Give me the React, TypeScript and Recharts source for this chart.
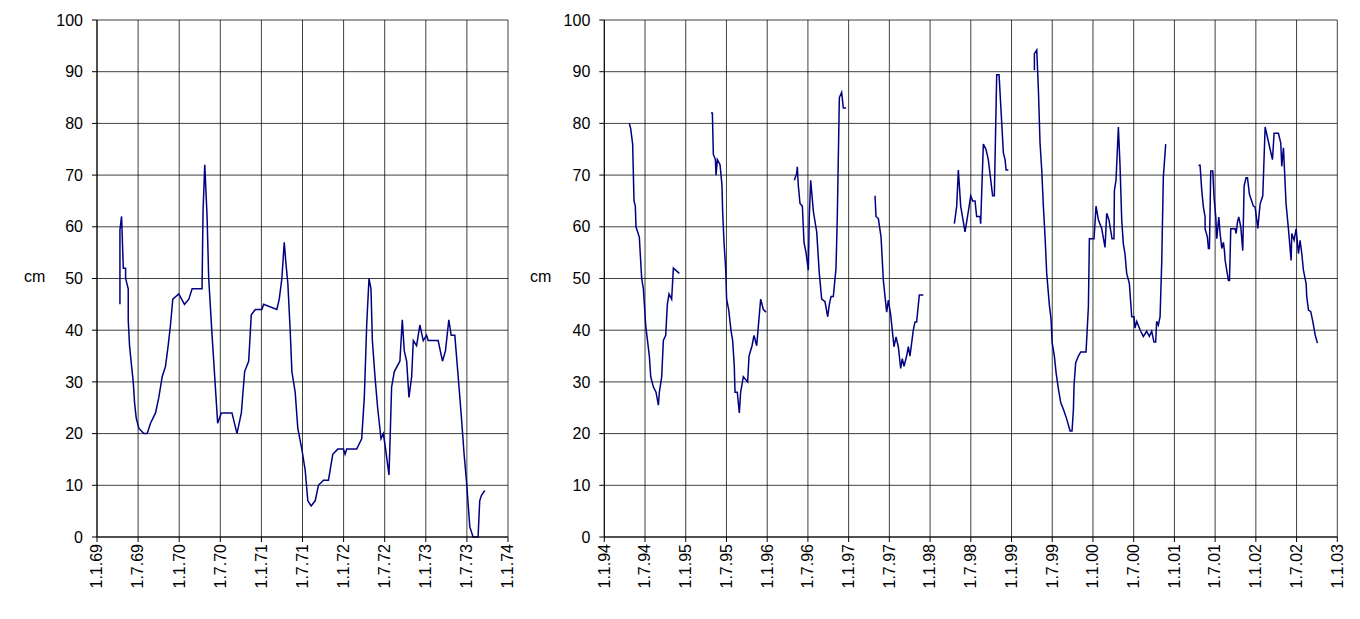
import { LineChart, Line, XAxis, YAxis, CartesianGrid } from 'recharts'

// 1969-1973 record: years (decimal, two-digit) and water level in cm
const leftYears = [69.279, 69.279, 69.299, 69.320, 69.348, 69.348, 69.380, 69.380, 69.396, 69.421, 69.441, 69.457, 69.477, 69.510, 69.570, 69.611, 69.651, 69.712, 69.752, 69.793, 69.833, 69.866, 69.894, 69.922, 69.995, 70.064, 70.117, 70.157, 70.278, 70.290, 70.311, 70.339, 70.359, 70.400, 70.432, 70.468, 70.513, 70.642, 70.703, 70.756, 70.796, 70.845, 70.877, 70.926, 71.006, 71.027, 71.188, 71.217, 71.249, 71.278, 71.298, 71.322, 71.350, 71.371, 71.411, 71.443, 71.492, 71.532, 71.565, 71.605, 71.654, 71.694, 71.755, 71.816, 71.868, 71.929, 71.998, 72.018, 72.038, 72.159, 72.220, 72.252, 72.281, 72.309, 72.333, 72.350, 72.382, 72.414, 72.455, 72.483, 72.511, 72.552, 72.564, 72.584, 72.617, 72.685, 72.714, 72.738, 72.767, 72.795, 72.828, 72.848, 72.888, 72.928, 72.969, 73.009, 73.029, 73.150, 73.203, 73.239, 73.280, 73.309, 73.353, 73.394, 73.434, 73.466, 73.494, 73.535, 73.575, 73.636, 73.656, 73.676, 73.717]
const leftCm = [45, 59.4, 62, 52, 52, 50, 48, 42, 37, 33, 30, 26, 23, 21, 20, 20, 22, 24, 27, 31, 33, 37, 41, 46, 47, 45, 46, 48, 48, 63, 72, 62, 50, 39, 31, 22, 24, 24, 20, 24, 32, 34, 43, 44, 44, 45, 44, 46, 50, 57, 53, 49, 40, 32, 28, 21, 17, 13, 7, 6, 7, 10, 11, 11, 16, 17, 17, 16, 17, 17, 19, 27, 41, 50, 48, 38, 31, 25, 19, 20, 17, 12, 18, 29, 32, 34, 42, 36, 34, 27, 31, 38, 37, 41, 38, 39, 38, 38, 34, 36, 42, 39, 39, 31, 23, 16, 11, 2, 0, 0, 7, 8, 9]

// 1994-2002 record, in separate measuring seasons
const rightSeg1Years = [94.307, 94.324, 94.348, 94.365, 94.381, 94.389, 94.430, 94.459, 94.480, 94.508, 94.553, 94.570, 94.603, 94.635, 94.664, 94.676, 94.705, 94.725, 94.754, 94.774, 94.795, 94.827, 94.848, 94.921]
const rightSeg1Cm = [80, 79, 76, 65, 64, 60, 58, 50, 48, 41, 35, 31, 29, 28, 25.5, 28, 31, 38, 39, 45, 47, 46, 52, 51]
const rightSeg2Years = [95.310, 95.327, 95.339, 95.364, 95.372, 95.388, 95.421, 95.445, 95.453, 95.470, 95.490, 95.502, 95.527, 95.555, 95.576, 95.596, 95.605, 95.633, 95.658, 95.674, 95.707, 95.760, 95.777, 95.814, 95.838, 95.871, 95.920, 95.953, 95.986]
const rightSeg2Cm = [82, 82, 74, 73, 70, 73, 72, 68, 63, 57, 52, 46, 44, 40, 38, 33, 28, 28, 24, 28, 31, 30, 35, 37, 39, 37, 46, 44, 43.5]
const rightSeg3Years = [96.333, 96.362, 96.370, 96.382, 96.403, 96.432, 96.452, 96.477, 96.505, 96.517, 96.534, 96.567, 96.608, 96.640, 96.669, 96.710, 96.743, 96.763, 96.784, 96.812, 96.845, 96.861, 96.886, 96.914, 96.935, 96.968]
const rightSeg3Cm = [69, 70.3, 71.6, 68, 64.5, 64, 57, 55, 51.6, 62, 69, 63, 59, 51, 46, 45.5, 42.6, 45, 46.5, 46.5, 52, 62, 85, 86, 83, 83]
const rightSeg4Years = [97.324, 97.336, 97.365, 97.398, 97.426, 97.447, 97.467, 97.488, 97.516, 97.557, 97.582, 97.610, 97.639, 97.659, 97.680, 97.712, 97.733, 97.753, 97.794, 97.815, 97.835, 97.868, 97.917]
const rightSeg4Cm = [66, 62, 61.6, 58, 49.7, 46.5, 43.5, 45.8, 43, 36.8, 38.7, 36.8, 32.6, 34.5, 33, 35, 36.8, 35, 40, 41.6, 41.6, 46.8, 46.8]
const rightSeg5Years = [98.298, 98.327, 98.347, 98.376, 98.429, 98.470, 98.499, 98.523, 98.552, 98.572, 98.613, 98.621, 98.654, 98.686, 98.715, 98.768, 98.789, 98.818, 98.847, 98.900, 98.921, 98.933, 98.961]
const rightSeg5Cm = [60.6, 64, 71, 64, 59, 63, 66, 65, 65, 62, 62, 60.6, 76, 75, 73, 66, 66, 89.4, 89.4, 74.3, 73, 71, 71]
const rightSeg6Years = [99.281, 99.281, 99.310, 99.330, 99.350, 99.371, 99.391, 99.412, 99.432, 99.465, 99.485, 99.498, 99.526, 99.547, 99.576, 99.604, 99.637, 99.678, 99.719, 99.743, 99.760, 99.768, 99.788, 99.821, 99.850, 99.915, 99.944, 99.956, 100.013, 100.038, 100.067, 100.107, 100.148, 100.169, 100.197, 100.234, 100.258, 100.263, 100.283, 100.312, 100.332, 100.353, 100.373, 100.393, 100.414, 100.447, 100.476, 100.504, 100.516, 100.537, 100.557, 100.586, 100.619, 100.659, 100.692, 100.721, 100.749, 100.770, 100.782, 100.803, 100.824, 100.844, 100.864, 100.893]
const rightSeg6Cm = [90.3, 93.5, 94.2, 86.5, 76.2, 71, 64, 58, 51, 44.8, 42.2, 37.7, 35, 31.8, 28.6, 26, 24.7, 22.8, 20.5, 20.5, 24.7, 29.5, 33.7, 35, 35.8, 35.8, 44.6, 57.7, 57.7, 64, 61.3, 59.7, 56, 62.6, 61.3, 57.7, 57.7, 67, 69, 79.3, 72, 61.3, 56.7, 54.8, 51, 49, 42.6, 42.6, 40.4, 41.7, 40.9, 39.8, 38.8, 39.8, 38.8, 39.8, 37.7, 37.7, 41.7, 41, 42.6, 53, 69.6, 76]
const rightSeg7Years = [101.295, 101.315, 101.336, 101.356, 101.377, 101.377, 101.405, 101.418, 101.430, 101.446, 101.471, 101.487, 101.508, 101.520, 101.545, 101.561, 101.582, 101.602, 101.614, 101.623, 101.663, 101.676, 101.692, 101.745, 101.758, 101.774, 101.790, 101.815, 101.839, 101.856, 101.880, 101.897, 101.921, 101.970, 101.991, 102.024, 102.052, 102.085, 102.114, 102.175, 102.204, 102.224, 102.277, 102.306, 102.318, 102.339, 102.371, 102.400, 102.433, 102.441, 102.470, 102.494, 102.523, 102.543, 102.564, 102.584, 102.617, 102.625, 102.646, 102.674, 102.699, 102.728, 102.756]
const rightSeg7Cm = [71.9, 71.9, 67, 63.8, 61.9, 59.6, 58, 55.8, 55.8, 70.8, 70.8, 65.7, 61.9, 57.7, 61.9, 58.7, 55.8, 57, 55.4, 53.5, 49.6, 49.6, 59.6, 59.6, 58.7, 60.9, 61.9, 60, 55.4, 67.9, 69.5, 69.5, 66.3, 64, 63.8, 59.7, 64.4, 66, 79.3, 75, 73, 78.1, 78.1, 76.2, 71.7, 75.3, 64.4, 59.6, 53.5, 58.7, 57.4, 59.6, 54.8, 57.4, 54.8, 51.6, 49, 46.5, 43.9, 43.6, 41.7, 39.1, 37.5]

const rightSegments = [
  [rightSeg1Years, rightSeg1Cm],
  [rightSeg2Years, rightSeg2Cm],
  [rightSeg3Years, rightSeg3Cm],
  [rightSeg4Years, rightSeg4Cm],
  [rightSeg5Years, rightSeg5Cm],
  [rightSeg6Years, rightSeg6Cm],
  [rightSeg7Years, rightSeg7Cm],
]

const yTicks = [0, 10, 20, 30, 40, 50, 60, 70, 80, 90, 100]
const leftTicks = [69, 69.5, 70, 70.5, 71, 71.5, 72, 72.5, 73, 73.5, 74]
const rightTicks = [94, 94.5, 95, 95.5, 96, 96.5, 97, 97.5, 98, 98.5, 99, 99.5, 100, 100.5, 101, 101.5, 102, 102.5, 103]

const leftData = leftYears.map((t, i) => ({ t, cm: leftCm[i] }))
const rightData: { t: number; cm: number | null }[] = []
rightSegments.forEach(([ys, cs], k) => {
  ys.forEach((t, i) => rightData.push({ t, cm: cs[i] }))
  if (k < rightSegments.length - 1) rightData.push({ t: ys[ys.length - 1] + 0.01, cm: null })
})

const dateLabel = (v: number) => {
  const whole = Math.floor(v + 1e-6)
  const month = v - whole > 0.25 ? 7 : 1
  return `1.${month}.${String(whole % 100).padStart(2, '0')}`
}

const font = { fontFamily: 'Liberation Sans, Arial, sans-serif', fontSize: 16, fill: '#000' }

function Chart({ data, ticks, width, yWidth, right }: any) {
  return (
    <LineChart width={width} height={619} data={data} margin={{ top: 20, right, left: 0, bottom: 0 }}>
      <CartesianGrid stroke="#000" strokeOpacity={0.75} horizontal vertical />
      <XAxis
        dataKey="t"
        type="number"
        domain={[ticks[0], ticks[ticks.length - 1]]}
        ticks={ticks}
        tickFormatter={dateLabel}
        interval={0}
        height={82}
        angle={-90}
        textAnchor="end"
        tick={{ ...font, dx: -6 }}
        tickSize={5}
        stroke="#000"
      />
      <YAxis
        type="number"
        domain={[0, 100]}
        ticks={yTicks}
        interval={0}
        width={yWidth}
        tick={font}
        tickSize={5}
        tickMargin={9}
        stroke="#000"
      />
      <Line type="linear" dataKey="cm" stroke="#000080" strokeWidth={1.5} dot={false} connectNulls={false} isAnimationActive={false} />
    </LineChart>
  )
}

export default function App() {
  return (
    <div style={{ position: 'absolute', left: 0, top: 0, width: 1360, height: 619, background: '#fff', fontFamily: 'Liberation Sans, Arial, sans-serif' }}>
      <div style={{ position: 'absolute', left: 0, top: 0 }}>
        <Chart data={leftData} ticks={leftTicks} width={520} yWidth={97} right={12} />
      </div>
      <div style={{ position: 'absolute', left: 515, top: 0 }}>
        <Chart data={rightData} ticks={rightTicks} width={835} yWidth={89.3} right={12.7} />
      </div>
      <div style={{ position: 'absolute', left: 24, top: 268, fontSize: 16 }}>cm</div>
      <div style={{ position: 'absolute', left: 530, top: 268, fontSize: 16 }}>cm</div>
    </div>
  )
}
